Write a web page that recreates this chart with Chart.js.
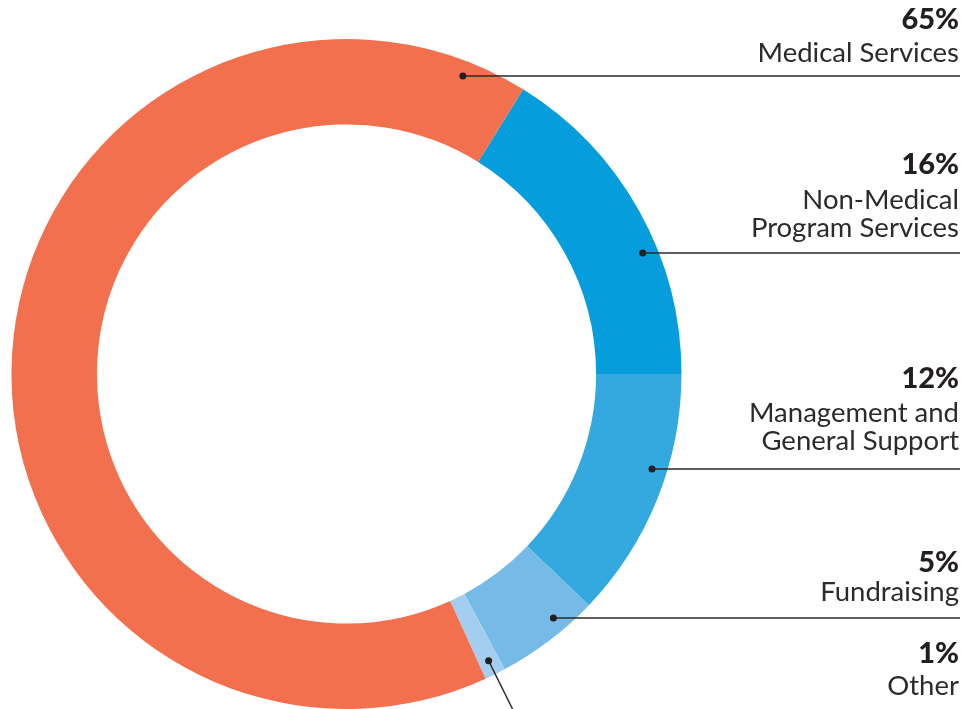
<!DOCTYPE html>
<html>
<head>
<meta charset="utf-8">
<script src="https://cdn.jsdelivr.net/npm/chart.js@4/dist/chart.umd.min.js"></script>
<style>
  html, body { margin: 0; padding: 0; background: #fff; }
  canvas { display: block; }
</style>
</head>
<body>
<canvas id="expenses" width="967" height="709"></canvas>
<script>
// data, clockwise starting from the blue block at the top right
const categories = ['Non-Medical Program Services', 'Management and General Support', 'Fundraising', 'Other', 'Medical Services']
const shares = [16, 12, 5, 1, 65]
const pctLabels = ['16%', '12%', '5%', '1%', '65%']
const nameLines = [
  ['Non-Medical', 'Program Services'],
  ['Management and', 'General Support'],
  ['Fundraising'],
  ['Other'],
  ['Medical Services']
]
const colors = ['#069DDC', '#33A9E0', '#76BBE7', '#A3CEF0', '#F3704F']

// where the callouts sit (baselines and leader line y), same order as above
const callouts = [
  { pctY: 174, nameY: [209, 237], lineY: 253 },
  { pctY: 388, nameY: [422, 450], lineY: 469 },
  { pctY: 572, nameY: [601], lineY: 618 },
  { pctY: 663, nameY: [695], lineY: null },
  { pctY: 29, nameY: [62], lineY: 76 }
]
const textRight = 959
const ink = '#231F20'

const total = shares.reduce((a, b) => a + b, 0)
// first block ends exactly at 3 o'clock
const startRotation = 90 - shares[0] / total * 360

const calloutPlugin = {
  id: 'callouts',
  afterDraw(chart) {
    const ctx = chart.ctx
    const arcs = chart.getDatasetMeta(0).data
    ctx.save()
    ctx.fillStyle = ink
    ctx.strokeStyle = '#2a2a2a'
    ctx.lineWidth = 1.4
    ctx.textAlign = 'right'
    ctx.textBaseline = 'alphabetic'

    arcs.forEach((arc, i) => {
      const c = callouts[i]
      const r = arc.outerRadius * 0.955
      let dotX, dotY

      if (c.lineY !== null) {
        dotY = c.lineY
        dotX = arc.x + Math.sqrt(r * r - (dotY - arc.y) ** 2)
        ctx.beginPath()
        ctx.moveTo(dotX, dotY)
        ctx.lineTo(textRight + 1, dotY)
        ctx.stroke()
      } else {
        // small slice: leader goes straight out from the middle of the slice
        const mid = (arc.startAngle + arc.endAngle) / 2
        dotX = arc.x + Math.cos(mid) * r
        dotY = arc.y + Math.sin(mid) * r
        ctx.beginPath()
        ctx.moveTo(dotX, dotY)
        ctx.lineTo(arc.x + Math.cos(mid) * (r + 120), arc.y + Math.sin(mid) * (r + 120))
        ctx.stroke()
      }
      ctx.beginPath()
      ctx.arc(dotX, dotY, 3.5, 0, Math.PI * 2)
      ctx.fill()

      ctx.font = '900 29px Lato'
      ctx.fillText(pctLabels[i], textRight, c.pctY)
      ctx.font = '27.5px Lato'
      ctx.fillStyle = '#2b2b2b'
      nameLines[i].forEach((line, j) => ctx.fillText(line, textRight, c.nameY[j]))
      ctx.fillStyle = ink
    })
    ctx.restore()
  }
}

const ctx = document.getElementById('expenses').getContext('2d')
const expensesChart = new Chart(ctx, {
  type: 'doughnut',
  data: {
    labels: categories,
    datasets: [{
      data: shares,
      backgroundColor: colors,
      borderWidth: 0,
      hoverOffset: 0
    }]
  },
  options: {
    responsive: false,
    animation: false,
    rotation: startRotation,
    cutout: '74.5%',
    layout: { padding: { left: 11, right: 285, top: 39, bottom: 0 } },
    plugins: {
      legend: { display: false },
      tooltip: { enabled: false }
    }
  },
  plugins: [calloutPlugin]
})
</script>
</body>
</html>
